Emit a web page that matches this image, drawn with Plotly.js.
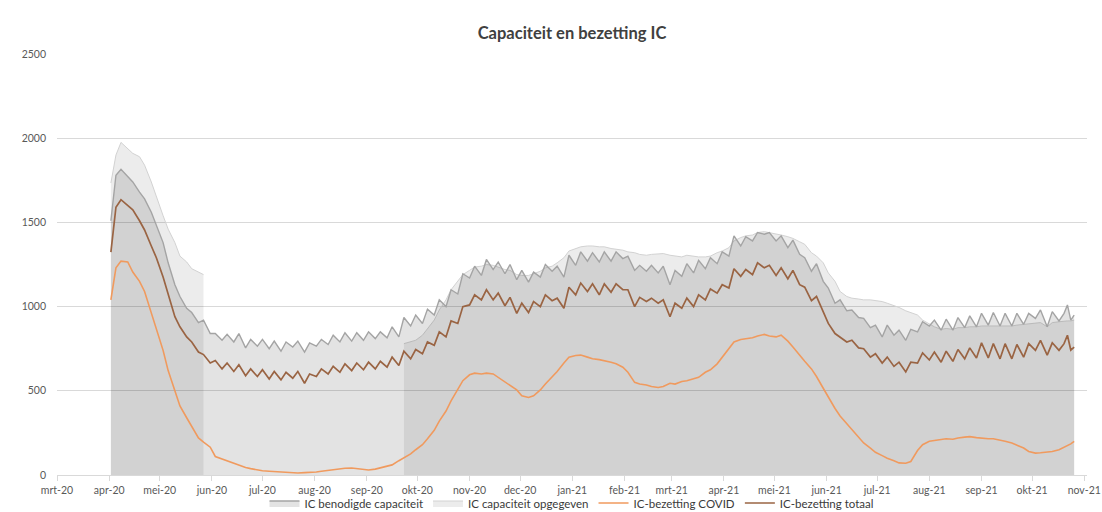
<!DOCTYPE html>
<html><head><meta charset="utf-8">
<script src="https://cdn.plot.ly/plotly-3.0.1.min.js"></script>
<style>html,body{margin:0;padding:0;background:#fff}#chart{width:1102px;height:512px}</style>
</head><body><div id="chart"></div>
<script>
const dates = ["2020-04-02","2020-04-05","2020-04-08","2020-04-12","2020-04-15","2020-04-19","2020-04-22","2020-04-26","2020-04-29","2020-05-03","2020-05-06","2020-05-10","2020-05-13","2020-05-17","2020-05-20","2020-05-24","2020-05-27","2020-05-31","2020-06-03","2020-06-07","2020-06-10","2020-06-14","2020-06-17","2020-06-21","2020-06-24","2020-06-28","2020-07-01","2020-07-05","2020-07-08","2020-07-12","2020-07-15","2020-07-19","2020-07-22","2020-07-26","2020-07-29","2020-08-02","2020-08-05","2020-08-09","2020-08-12","2020-08-16","2020-08-19","2020-08-23","2020-08-26","2020-08-30","2020-09-02","2020-09-06","2020-09-09","2020-09-13","2020-09-16","2020-09-20","2020-09-23","2020-09-27","2020-09-30","2020-10-04","2020-10-07","2020-10-11","2020-10-14","2020-10-18","2020-10-21","2020-10-25","2020-10-28","2020-11-01","2020-11-04","2020-11-08","2020-11-11","2020-11-15","2020-11-18","2020-11-22","2020-11-25","2020-11-29","2020-12-02","2020-12-06","2020-12-09","2020-12-13","2020-12-16","2020-12-20","2020-12-23","2020-12-27","2020-12-30","2021-01-03","2021-01-06","2021-01-10","2021-01-13","2021-01-17","2021-01-20","2021-01-24","2021-01-27","2021-01-31","2021-02-03","2021-02-07","2021-02-10","2021-02-14","2021-02-17","2021-02-21","2021-02-24","2021-02-28","2021-03-03","2021-03-07","2021-03-10","2021-03-14","2021-03-17","2021-03-21","2021-03-24","2021-03-28","2021-03-31","2021-04-04","2021-04-07","2021-04-11","2021-04-14","2021-04-18","2021-04-21","2021-04-25","2021-04-28","2021-05-02","2021-05-05","2021-05-09","2021-05-12","2021-05-16","2021-05-19","2021-05-23","2021-05-26","2021-05-30","2021-06-02","2021-06-06","2021-06-09","2021-06-13","2021-06-16","2021-06-20","2021-06-23","2021-06-27","2021-06-30","2021-07-04","2021-07-07","2021-07-11","2021-07-14","2021-07-18","2021-07-21","2021-07-25","2021-07-28","2021-08-01","2021-08-04","2021-08-08","2021-08-11","2021-08-15","2021-08-18","2021-08-22","2021-08-25","2021-08-29","2021-09-01","2021-09-05","2021-09-08","2021-09-12","2021-09-15","2021-09-19","2021-09-22","2021-09-26","2021-09-29","2021-10-03","2021-10-06","2021-10-10","2021-10-13","2021-10-17","2021-10-20","2021-10-22","2021-10-24","2021-10-26"];

const benodigd = [1510,1780,1815,1770,1740,1680,1640,1560,1480,1380,1260,1130,1060,990,965,905,920,840,840,800,835,790,840,755,805,765,805,750,795,735,790,760,795,730,785,765,805,775,830,790,845,795,845,800,850,810,850,815,880,820,935,885,950,900,985,950,1040,1000,1100,1075,1195,1170,1240,1185,1280,1220,1265,1195,1250,1160,1215,1145,1205,1175,1250,1210,1240,1175,1305,1245,1325,1270,1320,1265,1325,1270,1325,1285,1300,1215,1245,1210,1245,1200,1240,1130,1215,1180,1255,1200,1275,1225,1290,1255,1325,1300,1420,1360,1415,1390,1440,1430,1440,1390,1420,1350,1395,1310,1290,1210,1255,1150,1110,1020,1040,975,980,935,930,875,890,820,890,830,860,800,865,850,910,885,920,860,925,860,935,875,945,880,960,890,965,885,960,885,960,895,960,930,980,880,970,915,960,1010,920,950];

const opgegeven = [1734,1900,1975,1935,1910,1890,1840,1740,1650,1540,1460,1380,1300,1265,1225,1205,1190,null,null,null,null,null,null,null,null,null,null,null,null,null,null,null,null,null,null,null,null,null,null,null,null,null,null,null,null,null,null,null,null,null,780,790,800,830,870,920,980,1040,1100,1150,1190,1215,1235,1240,1250,1245,1235,1220,1215,1190,1185,1185,1195,1210,1230,1240,1260,1290,1330,1345,1355,1360,1360,1355,1355,1345,1340,1335,1325,1320,1310,1305,1310,1315,1315,1305,1300,1295,1305,1300,1295,1295,1300,1320,1330,1350,1390,1410,1420,1425,1440,1445,1440,1430,1425,1415,1405,1385,1370,1320,1300,1260,1200,1150,1090,1060,1050,1045,1040,1040,1035,1030,1020,1005,995,975,965,950,920,895,880,865,870,865,875,875,880,880,885,885,885,885,885,885,890,895,900,905,905,880,905,910,915,915,915,920];

const covid = [1040,1230,1270,1265,1205,1150,1090,960,860,740,620,500,410,340,285,220,195,165,110,95,85,70,60,45,38,30,25,22,20,18,14,12,12,14,15,18,22,28,32,36,40,42,38,32,30,35,42,50,60,85,100,125,150,180,215,265,320,380,440,510,560,595,605,600,605,600,580,555,535,505,470,460,470,505,540,580,615,665,700,710,712,700,690,685,680,670,660,640,610,550,540,535,525,520,525,545,540,555,560,570,580,610,625,660,700,750,790,805,810,815,825,835,825,820,830,795,760,710,675,630,585,515,460,395,350,305,265,220,190,160,135,115,100,85,72,70,80,145,180,200,205,210,215,212,220,225,228,222,218,215,215,208,200,190,178,160,140,130,132,135,140,150,165,175,185,200];

const totaal = [1324,1590,1635,1600,1575,1510,1455,1360,1290,1176,1070,940,880,820,790,730,715,665,680,630,665,615,655,590,630,585,625,570,615,565,610,575,615,545,600,585,630,600,645,610,660,620,665,625,670,630,675,640,700,650,735,690,745,720,790,770,850,820,915,900,1000,1010,1070,1040,1100,1040,1080,1005,1055,960,1020,965,1030,1000,1070,1035,1050,990,1115,1070,1140,1090,1135,1070,1135,1085,1135,1100,1100,1000,1055,1030,1050,1020,1040,940,1020,990,1050,1000,1070,1040,1105,1080,1130,1110,1225,1180,1220,1190,1260,1230,1245,1185,1230,1165,1215,1130,1115,1035,1060,965,900,840,820,790,800,755,750,700,720,665,700,645,670,612,670,665,725,683,730,670,735,675,745,690,755,695,785,695,780,690,780,690,775,700,780,740,800,712,785,740,780,830,742,760];

const tickDates = ["2020-03-01","2020-04-01","2020-05-01","2020-06-01","2020-07-01","2020-08-01","2020-09-01","2020-10-01","2020-11-01","2020-12-01","2021-01-01","2021-02-01","2021-03-01","2021-04-01","2021-05-01","2021-06-01","2021-07-01","2021-08-01","2021-09-01","2021-10-01","2021-11-01"];
const tickLabels = ["mrt-20","apr-20","mei-20","jun-20","jul-20","aug-20","sep-20","okt-20","nov-20","dec-20","jan-21","feb-21","mrt-21","apr-21","mei-21","jun-21","jul-21","aug-21","sep-21","okt-21","nov-21"];

const FONT = 'Lato, "Open Sans", sans-serif';

// split the reported-capacity series into its contiguous (non-empty) runs
function runs(xs, ys) {
  const out = []; let cur = null;
  ys.forEach((v, i) => {
    if (v === null) { cur = null; return; }
    if (!cur) { cur = {x: [], y: []}; out.push(cur); }
    cur.x.push(xs[i]); cur.y.push(v);
  });
  return out;
}

const traces = [];
runs(dates, opgegeven).forEach((seg, i) => {
  traces.push({name:'IC capaciteit opgegeven', x:seg.x, y:seg.y, type:'scatter', mode:'lines',
    fill:'tozeroy', fillcolor:'rgba(0,0,0,0.075)', legendgroup:'opg', showlegend:i===0,
    line:{color:'#d2d2d2', width:1}, legendrank:2});
});
traces.push(
  {name:'IC benodigde capaciteit', x:dates, y:benodigd, type:'scatter', mode:'lines',
   fill:'tozeroy', fillcolor:'rgba(0,0,0,0.11)',
   line:{color:'#a4a4a4', width:1.4}, legendrank:1},
  {name:'IC-bezetting COVID', x:dates, y:covid, type:'scatter', mode:'lines',
   line:{color:'#f09a5e', width:1.6}, legendrank:3},
  {name:'IC-bezetting totaal', x:dates, y:totaal, type:'scatter', mode:'lines',
   line:{color:'#9a6443', width:1.7}, legendrank:4}
);

const layout = {
  width:1102, height:512,
  paper_bgcolor:'#ffffff', plot_bgcolor:'#ffffff',
  margin:{l:57, r:15, t:54, b:37, autoexpand:false},
  font:{family:FONT, color:'#595959', size:10.5},
  title:{text:'Capaciteit en bezetting IC', x:0.5, xref:'paper', xanchor:'center',
         y:1-33/512, yref:'container', yanchor:'middle',
         font:{family:FONT, size:16.5, color:'#404040', weight:'bold'}},
  xaxis:{type:'date', range:['2020-03-01','2021-11-02 15:00'],
         tickmode:'array', tickvals:tickDates, ticktext:tickLabels,
         ticks:'outside', ticklen:5, tickcolor:'#d9d9d9',
         showline:true, linecolor:'#d9d9d9', linewidth:1,
         showgrid:false, zeroline:false, automargin:false,
         tickfont:{family:FONT, size:10.5, color:'#595959'}},
  yaxis:{range:[0,2500], dtick:500, tick0:0,
         showgrid:true, gridcolor:'#d9d9d9', gridwidth:1,
         zeroline:false, showline:false, ticks:'', automargin:false,
         ticklabelstandoff:10,
         tickfont:{family:FONT, size:10.5, color:'#595959'}},
  showlegend:true,
  legend:{orientation:'h', x:0.5, xanchor:'center', y:-(503-475)/421, yanchor:'middle',
          font:{family:FONT, size:11.5, color:'#3a3a3a'}, bgcolor:'rgba(0,0,0,0)',
          itemwidth:30, tracegroupgap:0}
};

Plotly.newPlot('chart', traces, layout, {displayModeBar:false, staticPlot:true});
</script>
</body></html>
